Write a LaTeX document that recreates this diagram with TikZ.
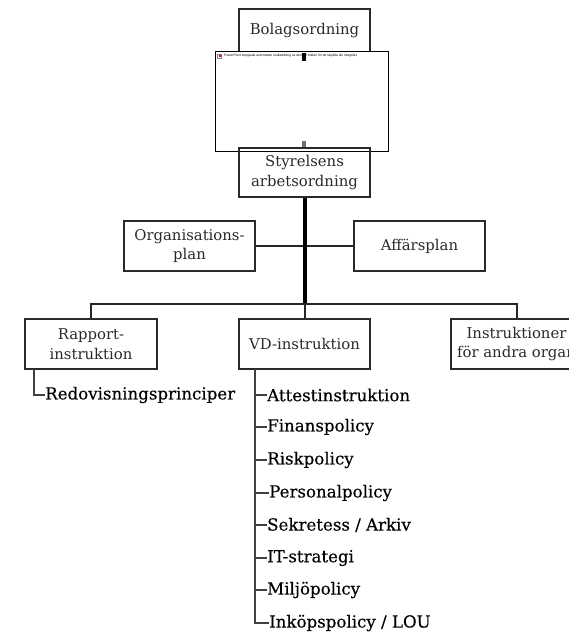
\documentclass[tikz,border=0pt]{standalone}
\usepackage{fontspec}
\setmainfont{DejaVu Serif}
\newfontfamily\tinyfont{Liberation Sans}
\newfontfamily\itemfont[FakeBold=0.3]{DejaVu Serif}
\usetikzlibrary{calc}
\definecolor{ink}{HTML}{2A2A2A}
\tikzset{
  orgbox/.style={draw=ink,line width=2bp,fill=white,minimum width=131bp,inner sep=0pt,align=center,text=ink,font=\fontsize{14.9}{20}\selectfont},
  item/.style={anchor=west,inner sep=0pt,text=black,font=\itemfont\fontsize{16.7}{19}\selectfont},
  thick link/.style={draw=black,line width=4bp},
  link/.style={draw=black!85,line width=2bp},
  tick/.style={draw=black!75,line width=2bp}
}
\begin{document}
\begin{tikzpicture}[x=1bp,y=-1bp]
\useasboundingbox (0,0) rectangle (569,633);
\clip (0,0) rectangle (569,633);
\fill[white] (0,0) rectangle (569,633);
\node[orgbox,line width=2.6bp,minimum height=43bp] (bolag) at (304.5,30.5) {Bolagsordning};
\node[orgbox,minimum height=50bp] (org) at (189.5,246) {Organisations-\\plan};
\node[orgbox,minimum height=50bp] (aff) at (419.5,246) {Affärsplan};
\node[orgbox,minimum height=50bp] (rapp) at (91,344) {Rapport-\\instruktion};
\node[orgbox,minimum height=50bp] (vd) at (304.5,344) {VD-instruktion};
\node[orgbox,minimum height=50bp] (instr) at (516.5,344) {Instruktioner\\för andra organ};
% picture placeholder
\node[draw=black,line width=1bp,fill=white,minimum width=173bp,minimum height=99bp,inner sep=0pt] (pic) at (301.5,101.5) {};
\node[draw=black!50,line width=0.3bp,fill=white,minimum size=4bp,inner sep=0pt] (icon) at (219.5,56) {};
\fill[red!85!black] (218.7,55.5) rectangle (220.5,57.5);
\node[anchor=west,inner sep=0pt,font=\tinyfont\fontsize{3.3}{4}\selectfont] (msg) at (224,56) {PowerPoint stoppade automatisk nedladdning av den här bilden för att skydda din integritet.};
\node[orgbox,line width=2.6bp,fill=none,minimum height=49bp] (styr) at (304.5,172.5) {Styrelsens\\arbetsordning};
\coordinate (hub) at (304.5,246);
\coordinate (bus) at (304.5,304);
\draw[link] (org.east) -- (aff.west);
\draw[thick link] (styr.south) -- (bus);
\draw[link] (bus) -- (vd.north);
\draw[link] (rapp.north) |- (bus) -| (instr.north);
\coordinate (stubA) at (304,61);
\coordinate (stubB) at (304,141);
\draw[draw=black,line width=4bp] (bolag.south -| stubA) -- (stubA);
\draw[draw=black!55,line width=4bp] (stubB) -- (stubB |- styr.north);
% left branch
\node[item] (redo) at (45,395) {Redovisningsprinciper};
\coordinate (rstart) at (34,369);
\draw[tick] (rstart) |- (redo.west);
% right branch
\node[item] (a1) at (267,395) {Attestinstruktion};
\node[item] (a2) at (267,427) {Finanspolicy};
\node[item] (a3) at (267,460) {Riskpolicy};
\node[item] (a4) at (269,493) {Personalpolicy};
\node[item] (a5) at (267,525) {Sekretess / Arkiv};
\node[item] (a6) at (267,558) {IT-strategi};
\node[item] (a7) at (267,590) {Miljöpolicy};
\node[item] (a8) at (269,623) {Inköpspolicy / LOU};
\coordinate (vstart) at (255,369);
\draw[tick] (vstart) |- (a8.west);
\foreach \n in {a1,a2,a3,a4,a5,a6,a7}{\draw[tick] (vstart |- \n.west) -- (\n.west);}
\end{tikzpicture}
\end{document}
